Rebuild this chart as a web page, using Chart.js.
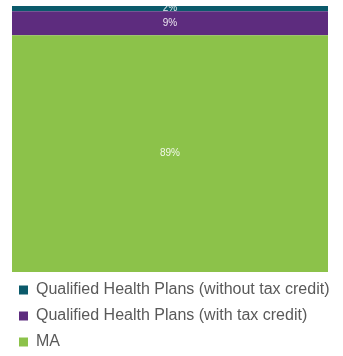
<!DOCTYPE html>
<html>
<head>
<meta charset="utf-8">
<script src="https://cdn.jsdelivr.net/npm/chart.js@4"></script>
<style>
  html, body { margin: 0; padding: 0; background: #fff; }
  #wrap { width: 343px; height: 356px; }
</style>
</head>
<body>
<div id="wrap"><canvas id="planChart"></canvas></div>
<script>
// stacked bottom to top
const seriesNames = ["MA", "Qualified Health Plans (with tax credit)", "Qualified Health Plans (without tax credit)"];
const seriesValues = [89, 9, 2];
const seriesColors = ["#8cc24a", "#5d2c7e", "#0b5a6b"];
const categories = ["Enrollment"];

// percent labels in the middle of each segment
const segmentLabels = {
  id: "segmentLabels",
  afterDatasetsDraw(chart) {
    const ctx = chart.ctx;
    ctx.save();
    ctx.font = '10px "Liberation Sans", Arial, sans-serif';
    ctx.fillStyle = "rgba(255,255,255,0.88)";
    ctx.textAlign = "center";
    ctx.textBaseline = "middle";
    chart.data.datasets.forEach((ds, i) => {
      chart.getDatasetMeta(i).data.forEach((bar, j) => {
        const p = bar.getProps(["x", "y", "base"], true);
        ctx.fillText(ds.data[j] + "%", p.x, (p.y + p.base) / 2);
      });
    });
    ctx.restore();
  }
};

const datasets = seriesNames.map((name, i) => ({
  label: name,
  data: [seriesValues[i]],
  backgroundColor: seriesColors[i],
  borderWidth: 0,
  categoryPercentage: 1,
  barPercentage: 316 / 322,
}));

new Chart(document.getElementById("planChart"), {
  type: "bar",
  data: { labels: categories, datasets },
  options: {
    responsive: true,
    maintainAspectRatio: false,
    animation: false,
    layout: { padding: { left: 9, right: 12, top: 6, bottom: -4 } },
    scales: {
      x: { stacked: true, display: false },
      y: { stacked: true, display: false, min: 0, max: 100 },
    },
    plugins: {
      tooltip: { enabled: false },
      legend: {
        position: "bottom",
        align: "start",
        reverse: true,
        labels: {
          boxWidth: 9,
          boxHeight: 9,
          padding: 10,
          color: "#595959",
          font: { family: '"Liberation Sans", Arial, sans-serif', size: 16 },
        },
      },
    },
  },
  plugins: [segmentLabels],
});
</script>
</body>
</html>
